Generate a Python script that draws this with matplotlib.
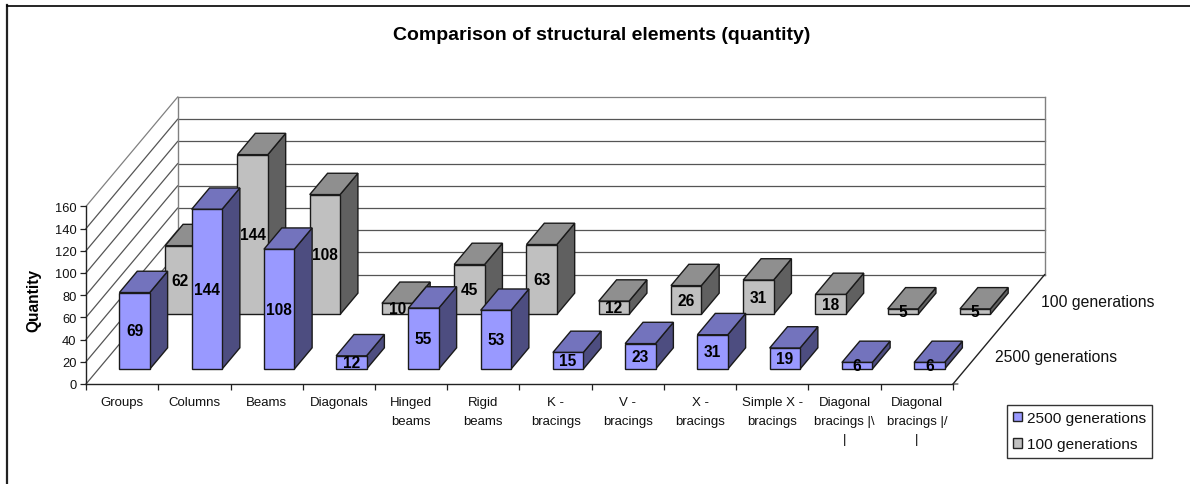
# 3D-style clustered column chart of structural element counts
import matplotlib
matplotlib.use('Agg')
import matplotlib.pyplot as plt
from matplotlib.lines import Line2D
from matplotlib.patches import Patch, Polygon

plt.rcParams['font.family'] = ['Liberation Sans', 'DejaVu Sans']

categories = ['Groups', 'Columns', 'Beams', 'Diagonals', 'Hinged\nbeams', 'Rigid\nbeams',
              'K -\nbracings', 'V -\nbracings', 'X -\nbracings', 'Simple X -\nbracings',
              'Diagonal\nbracings |\\\n|', 'Diagonal\nbracings |/\n|']
gen_2500 = [69, 144, 108, 12, 55, 53, 15, 23, 31, 19, 6, 6]
gen_100 = [62, 144, 108, 10, 45, 63, 12, 26, 31, 18, 5, 5]
series_names = ['2500 generations', '100 generations']
y_ticks = [0, 20, 40, 60, 80, 100, 120, 140, 160]

W, H = 1190, 485
# Oblique projection: one unit of depth shifts a point by this much in data units
DEPTH_X = 1.268
DEPTH_Y = 98.5


def project(x, y, z):
    return x + z * DEPTH_X, y + z * DEPTH_Y


def face(ax, corners, color):
    ax.add_patch(Polygon([project(*c) for c in corners], closed=True, facecolor=color,
                         edgecolor='#1a1a1a', linewidth=1.0, joinstyle='miter',
                         clip_on=False, zorder=4))


# One box per value, with the value written on its front face
def draw_series(ax, values, z0, colors):
    z1 = z0 + 0.195
    for i, v in enumerate(values):
        x0, x1 = i + 0.29, i + 0.71
        face(ax, [(x1, 0, z0), (x1, v, z0), (x1, v, z1), (x1, 0, z1)], colors[2])
        face(ax, [(x0, v, z0), (x1, v, z0), (x1, v, z1), (x0, v, z1)], colors[1])
        face(ax, [(x0, 0, z0), (x1, 0, z0), (x1, v, z0), (x0, v, z0)], colors[0])
        tx, ty = project(i + 0.5, v / 2, z0)
        ax.text(tx, ty, str(v), ha='center', va='center', fontsize=11.2,
                fontweight='bold', color='black', zorder=10)


fig = plt.figure(figsize=(W / 100, H / 100), dpi=100, facecolor='white')
ax = fig.add_axes([86 / W, (H - 385) / H, 867 / W, 177.6 / H])
ax.set_xlim(0, 12)
ax.set_ylim(0, 160)
ax.patch.set_visible(False)
for s in ['top', 'right']:
    ax.spines[s].set_visible(False)
for s in ['left', 'bottom']:
    ax.spines[s].set_color('#222222')
    ax.spines[s].set_linewidth(1.0)

# Gridlines on the back and left walls
for t in y_ticks:
    col = '#808080' if t == 160 else '#555555'
    ax.plot(*zip(project(0, t, 1), project(12, t, 1)), color=col, lw=0.9, clip_on=False, zorder=1)
    ax.plot(*zip(project(0, t, 0), project(0, t, 1)), color=col, lw=0.9, clip_on=False, zorder=1)
ax.plot(*zip(project(0, 0, 1), project(0, 160, 1)), color='#808080', lw=1.0, clip_on=False, zorder=1)
ax.plot(*zip(project(12, 0, 1), project(12, 160, 1)), color='#808080', lw=1.0, clip_on=False, zorder=1)

# Floor edge and depth axis ticks
ax.plot(*zip(project(12, 0, 0), project(12, 0, 1)), color='#222222', lw=1.0, clip_on=False, zorder=2)
for z in [0, 0.5, 1]:
    ax.annotate('', xy=project(12, 0, z), xytext=(3.6, 0), textcoords='offset points',
                arrowprops=dict(arrowstyle='-', color='#333333', lw=0.8, shrinkA=0, shrinkB=0))

draw_series(ax, gen_100, 0.636, ['#C0C0C0', '#8F8F8F', '#606060'])
draw_series(ax, gen_2500, 0.136, ['#9999FF', '#7373BD', '#4D4D80'])

ax.set_yticks(y_ticks)
ax.set_xticks(range(13))
ax.set_xticklabels([])
ax.set_xticks([i + 0.5 for i in range(12)], minor=True)
ax.set_xticklabels(categories, minor=True, fontsize=9.5, color='#111111')
ax.tick_params(axis='x', which='major', length=4.3, width=0.9, color='#222222')
ax.tick_params(axis='x', which='minor', length=0, pad=9)
ax.tick_params(axis='y', length=4.3, width=0.9, color='#222222', labelsize=9.3, pad=2.5,
               labelcolor='#111111')
for lab in ax.get_xticklabels(minor=True):
    lab.set_linespacing(1.7)

ax.set_ylabel('Quantity', fontsize=11.2, fontweight='bold')
ax.yaxis.set_label_coords(-0.051, 0.478)

# Series names along the depth axis
for z, name in zip([0.25, 0.75], series_names):
    ax.annotate(name, xy=project(12, 0, z), xytext=(14, 0), textcoords='offset points',
                ha='left', va='center', fontsize=11.3, color='#111111', annotation_clip=False)

fig.text(601.5 / W, 1 - 35.5 / H, 'Comparison of structural elements (quantity)',
         ha='center', va='center', fontsize=14, fontweight='bold')

handles = [Patch(facecolor='#9999FF', edgecolor='#222222', linewidth=1.0),
           Patch(facecolor='#C0C0C0', edgecolor='#222222', linewidth=1.0)]
leg = fig.legend(handles, series_names, loc='upper left', bbox_to_anchor=(1006.5 / W, 1 - 405.5 / H),
                 borderaxespad=0, fancybox=False, framealpha=1, edgecolor='#333333', fontsize=11.1,
                 handlelength=0.6, handleheight=0.6, handletextpad=0.3, labelspacing=0.8,
                 borderpad=0.42, labelcolor='#111111')
leg.get_frame().set_linewidth(1.0)

# Chart area border, left and top only
fig.add_artist(Line2D([7 / W, 7 / W], [0, 1 - 6 / H], color='#222222', lw=1.6))
fig.add_artist(Line2D([7 / W, 1], [1 - 6.5 / H, 1 - 6.5 / H], color='black', lw=1.2))

fig.savefig('out.png', dpi=100)
